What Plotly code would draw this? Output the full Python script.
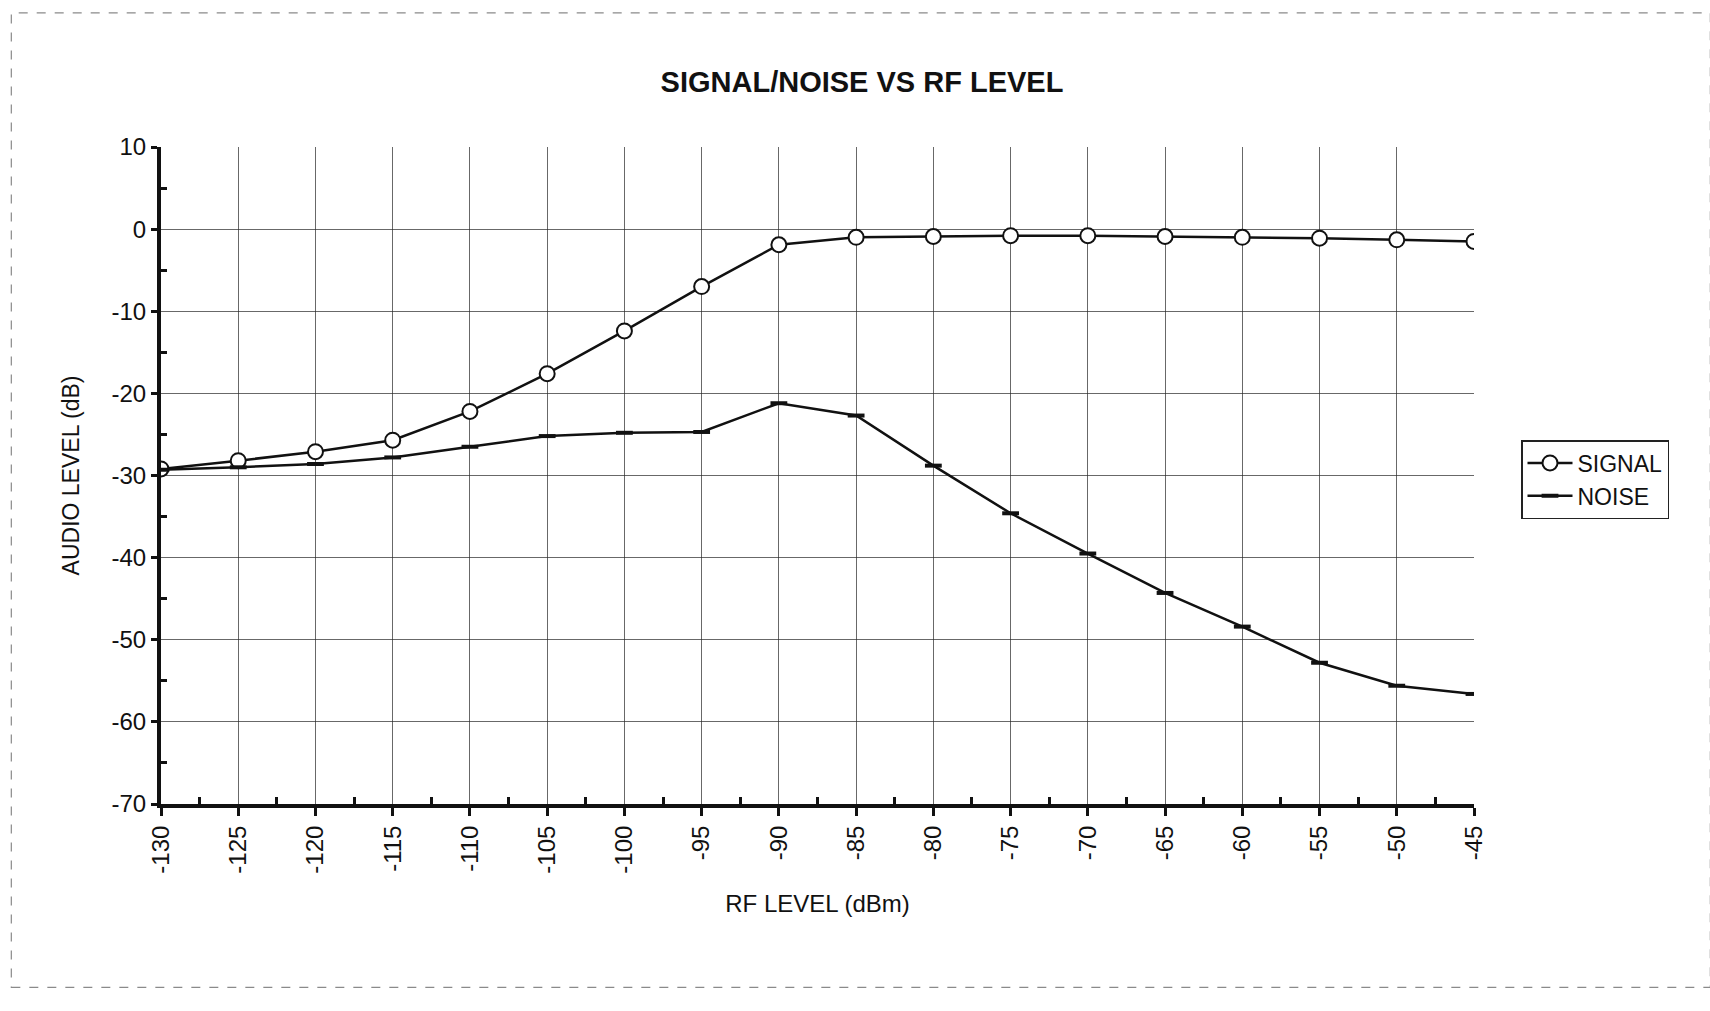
import plotly.graph_objects as go

# RF input level (dBm)
rf_level = [-130, -125, -120, -115, -110, -105, -100, -95, -90,
            -85, -80, -75, -70, -65, -60, -55, -50, -45]

# Audio output levels (dB)
signal_db = [-29.2, -28.2, -27.1, -25.7, -22.2, -17.6, -12.4, -7.0, -1.9,
             -1.0, -0.9, -0.8, -0.8, -0.9, -1.0, -1.1, -1.3, -1.5]
noise_db = [-29.3, -29.0, -28.6, -27.8, -26.5, -25.2, -24.8, -24.7, -21.2,
            -22.7, -28.8, -34.6, -39.5, -44.3, -48.4, -52.8, -55.6, -56.6]

x_ticks = list(range(-130, -44, 5))
y_ticks = list(range(-70, 11, 10))

FONT = "Arial, Liberation Sans, sans-serif"
INK = "#111111"
GRID = "rgba(40,40,40,0.7)"

fig = go.Figure()

fig.add_trace(go.Scatter(
    x=rf_level, y=signal_db, name="SIGNAL", mode="lines+markers",
    line=dict(color=INK, width=2.5),
    marker=dict(symbol="circle", size=15, color="white",
                line=dict(color=INK, width=2)),
))

fig.add_trace(go.Scatter(
    x=rf_level, y=noise_db, name="NOISE", mode="lines+markers",
    line=dict(color=INK, width=2.5),
    marker=dict(symbol="line-ew", size=12, color=INK,
                line=dict(color=INK, width=4)),
))

# thin frame around the whole chart sheet
fig.add_shape(type="rect", xref="paper", yref="paper",
              x0=-0.114, x1=1.18, y0=-0.279, y1=1.204,
              line=dict(color="rgba(60,60,60,0.6)", width=1.2, dash="dash"),
              layer="below")

fig.update_layout(
    width=1710, height=1011,
    paper_bgcolor="white", plot_bgcolor="white",
    margin=dict(l=161, r=236, t=147, b=207),
    font=dict(family=FONT, color=INK),
    title=dict(text="<b>SIGNAL/NOISE VS RF LEVEL</b>",
               x=(862 / 1710), xanchor="center", y=1 - 82 / 1011, yanchor="middle",
               font=dict(size=29, family=FONT, color=INK)),
    legend=dict(x=1.0 + (1521 - 1474) / 1313, y=(804 - 440) / 657,
                xanchor="left", yanchor="top",
                bordercolor="#222222", borderwidth=1.5, bgcolor="white",
                font=dict(size=23, family=FONT, color=INK),
                itemwidth=45, tracegroupgap=6),
    showlegend=True,
)

fig.update_xaxes(
    range=[-130, -45], tickvals=x_ticks, ticktext=[str(v) for v in x_ticks],
    tickangle=-90, tickfont=dict(size=24, family=FONT, color=INK),
    ticks="outside", ticklen=8, tickwidth=3, tickcolor=INK,
    minor=dict(tickvals=[v + 2.5 for v in x_ticks[:-1]], ticks="inside",
               ticklen=7, tickwidth=3, tickcolor=INK, showgrid=False),
    showline=True, linecolor=INK, linewidth=4,
    showgrid=True, gridcolor=GRID, gridwidth=1,
    zeroline=False,
    title=dict(text="RF LEVEL (dBm)", font=dict(size=24, family=FONT, color=INK),
               standoff=24),
)

fig.update_yaxes(
    range=[-70, 10], tickvals=y_ticks, ticktext=[str(v) for v in y_ticks],
    tickfont=dict(size=24, family=FONT, color=INK),
    ticks="outside", ticklen=6, tickwidth=3, tickcolor=INK,
    minor=dict(tickvals=[v + 5 for v in y_ticks[:-1]], ticks="inside",
               ticklen=6, tickwidth=3, tickcolor=INK, showgrid=False),
    showline=True, linecolor=INK, linewidth=4,
    showgrid=True, gridcolor=GRID, gridwidth=1,
    zeroline=False,
    title=dict(text="AUDIO LEVEL (dB)", font=dict(size=23, family=FONT, color=INK),
               standoff=26),
)

fig.write_html("out.html")
